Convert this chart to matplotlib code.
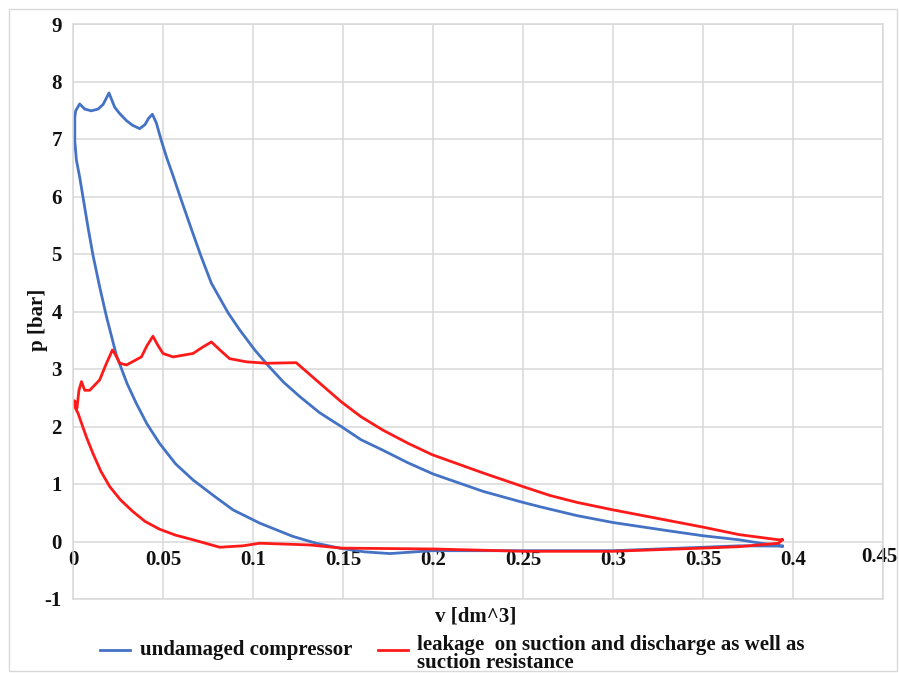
import matplotlib
matplotlib.use("Agg")
import matplotlib.pyplot as plt
from matplotlib.lines import Line2D
from matplotlib.patches import Rectangle
from matplotlib.transforms import ScaledTranslation

plt.rcParams["axes.unicode_minus"] = False

# ---- data ----
blue_v = [0.394, 0.38, 0.37, 0.35, 0.33, 0.30, 0.28, 0.26, 0.25, 0.228, 0.20, 0.186, 0.172, 0.16,
          0.149, 0.137, 0.126, 0.117, 0.109, 0.101, 0.0926, 0.0861, 0.0769, 0.0709, 0.0648,
          0.0597, 0.0556, 0.0520, 0.0491, 0.0463, 0.0441, 0.042, 0.040, 0.037,
          0.033, 0.0297, 0.026, 0.0232, 0.020, 0.0167, 0.0139, 0.0102, 0.0065, 0.0037,
          0.0015, 0.001, 0.001, 0.0019, 0.0037, 0.0056, 0.0083, 0.0111, 0.0148, 0.0186, 0.0241,
          0.0300, 0.0352, 0.041, 0.048, 0.057, 0.0667, 0.078, 0.0889, 0.1037, 0.122, 0.135,
          0.149, 0.162, 0.176, 0.1995, 0.25, 0.30, 0.35, 0.37, 0.394]
blue_p = [-0.08, -0.02, 0.03, 0.10, 0.19, 0.33, 0.45, 0.60, 0.68, 0.87, 1.175, 1.37, 1.59, 1.77,
          2.0, 2.24, 2.52, 2.77, 3.04, 3.33, 3.68, 3.98, 4.49, 4.98, 5.52,
          5.98, 6.36, 6.68, 6.97, 7.28, 7.43, 7.36, 7.25, 7.18,
          7.24, 7.32, 7.44, 7.55, 7.80, 7.60, 7.52, 7.49, 7.52, 7.61,
          7.49, 7.38, 6.96, 6.63, 6.34, 5.98, 5.47, 4.98, 4.43, 3.91, 3.24,
          2.75, 2.40, 2.05, 1.71, 1.35, 1.07, 0.80, 0.55, 0.32, 0.09, -0.03,
          -0.12, -0.18, -0.21, -0.16, -0.16, -0.16, -0.10, -0.075, -0.08]

red_v = [0.394, 0.392, 0.37, 0.35, 0.325, 0.30, 0.28, 0.265, 0.25, 0.228, 0.1995, 0.186, 0.172,
         0.16, 0.149, 0.135, 0.124, 0.1074, 0.0963, 0.087, 0.082, 0.0769, 0.072, 0.0667,
         0.0556, 0.050, 0.047, 0.0444, 0.041, 0.038, 0.0297, 0.026, 0.0232, 0.0219, 0.0186,
         0.0148, 0.0093, 0.0065, 0.0047, 0.0033, 0.0022, 0.0013, 0.0005, 0.001, 0.0028,
         0.0074, 0.0111, 0.0155, 0.0204, 0.0265, 0.0333, 0.040, 0.048, 0.057, 0.0667, 0.0815,
         0.0944, 0.1037, 0.1315, 0.149, 0.20, 0.25, 0.30, 0.35, 0.37, 0.392, 0.394]
red_p = [0.03, 0.03, 0.12, 0.25, 0.40, 0.55, 0.68, 0.80, 0.955, 1.19, 1.51, 1.71, 1.94,
         2.17, 2.43, 2.81, 3.11, 3.10, 3.125, 3.18, 3.32, 3.47, 3.38, 3.27,
         3.21, 3.27, 3.42, 3.57, 3.40, 3.21, 3.07, 3.10, 3.27, 3.33, 3.10,
         2.81, 2.63, 2.63, 2.78, 2.63, 2.32, 2.43, 2.45, 2.34, 2.23,
         1.82, 1.53, 1.22, 0.955, 0.72, 0.52, 0.35, 0.215, 0.11, 0.03, -0.10,
         -0.075, -0.03, -0.06, -0.115, -0.13, -0.17, -0.17, -0.115, -0.09, -0.03, 0.03]

x_ticks = [0, 0.05, 0.1, 0.15, 0.2, 0.25, 0.3, 0.35, 0.4, 0.45]
x_tick_labels = ["0", "0.05", "0.1", "0.15", "0.2", "0.25", "0.3", "0.35", "0.4", "0.45"]
y_ticks = [-1, 0, 1, 2, 3, 4, 5, 6, 7, 8, 9]
series_names = ["undamaged compressor",
                "leakage  on suction and discharge as well as\nsuction resistance"]
series_colors = ["#4472C4", "#FF1A1A"]

# ---- style ----
FONT = "Liberation Serif"
TXT = "#111111"
GRID = "#D9D9D9"
FS = 15
LW = 2.0

fig = plt.figure(figsize=(8.99, 6.73), dpi=100)
W, H = 899, 673
ax = fig.add_axes([73 / W, 1 - 599 / H, (883 - 73) / W, (599 - 24) / H])

ax.plot(blue_v, blue_p, color=series_colors[0], lw=LW, solid_joinstyle="round")
ax.plot(red_v, red_p, color=series_colors[1], lw=LW, solid_joinstyle="round")

ax.set_xlim(0, 0.45)
ax.set_ylim(-1, 9)
ax.set_xticks(x_ticks)
ax.set_xticklabels(x_tick_labels)
ax.set_yticks(y_ticks)
ax.grid(True, color=GRID, lw=1.1)
ax.set_axisbelow(True)
for s in ax.spines.values():
    s.set_color(GRID)
    s.set_linewidth(1.1)

ax.tick_params(axis="both", length=0, labelsize=FS, labelcolor=TXT)
ax.tick_params(axis="x", pad=-35)
ax.tick_params(axis="y", pad=8)
for lab in ax.get_xticklabels() + ax.get_yticklabels():
    lab.set_fontfamily(FONT)
    lab.set_fontweight("bold")
# last x label sits inside the figure edge, slightly raised, like the reference
last = ax.get_xticklabels()[-1]
last.set_horizontalalignment("right")
last.set_transform(last.get_transform() + ScaledTranslation(14 / 100, 3 / 100, fig.dpi_scale_trans))

fig.text(38 / W, 1 - 320 / H, "p [bar]", rotation=90, ha="center", va="center",
         fontsize=FS, fontfamily=FONT, fontweight="bold", color=TXT)
fig.text(476 / W, 1 - 616 / H, "v [dm^3]", ha="center", va="center",
         fontsize=FS, fontfamily=FONT, fontweight="bold", color=TXT)

# legend (manual, handle aligned to first text line)
ly = 1 - 650 / H
fig.add_artist(Line2D([100 / W, 130 / W], [ly, ly], color=series_colors[0], lw=LW))
fig.text(140 / W, 1 - 655 / H, series_names[0], ha="left", va="baseline", fontsize=FS,
         fontfamily=FONT, fontweight="bold", color=TXT)
fig.add_artist(Line2D([378 / W, 408 / W], [ly, ly], color=series_colors[1], lw=LW))
# for multi-line text, va="baseline" aligns the last line's baseline
fig.text(417 / W, 1 - 668.5 / H, series_names[1], ha="left", va="baseline", fontsize=FS,
         fontfamily=FONT, fontweight="bold", color=TXT, linespacing=0.92)

# outer chart border
fig.add_artist(Rectangle((9 / W, 2 / H), (897 - 9) / W, (664 - 2) / H, transform=fig.transFigure,
                         fill=False, edgecolor=GRID, lw=1.0))

fig.savefig("out.png", dpi=100)
